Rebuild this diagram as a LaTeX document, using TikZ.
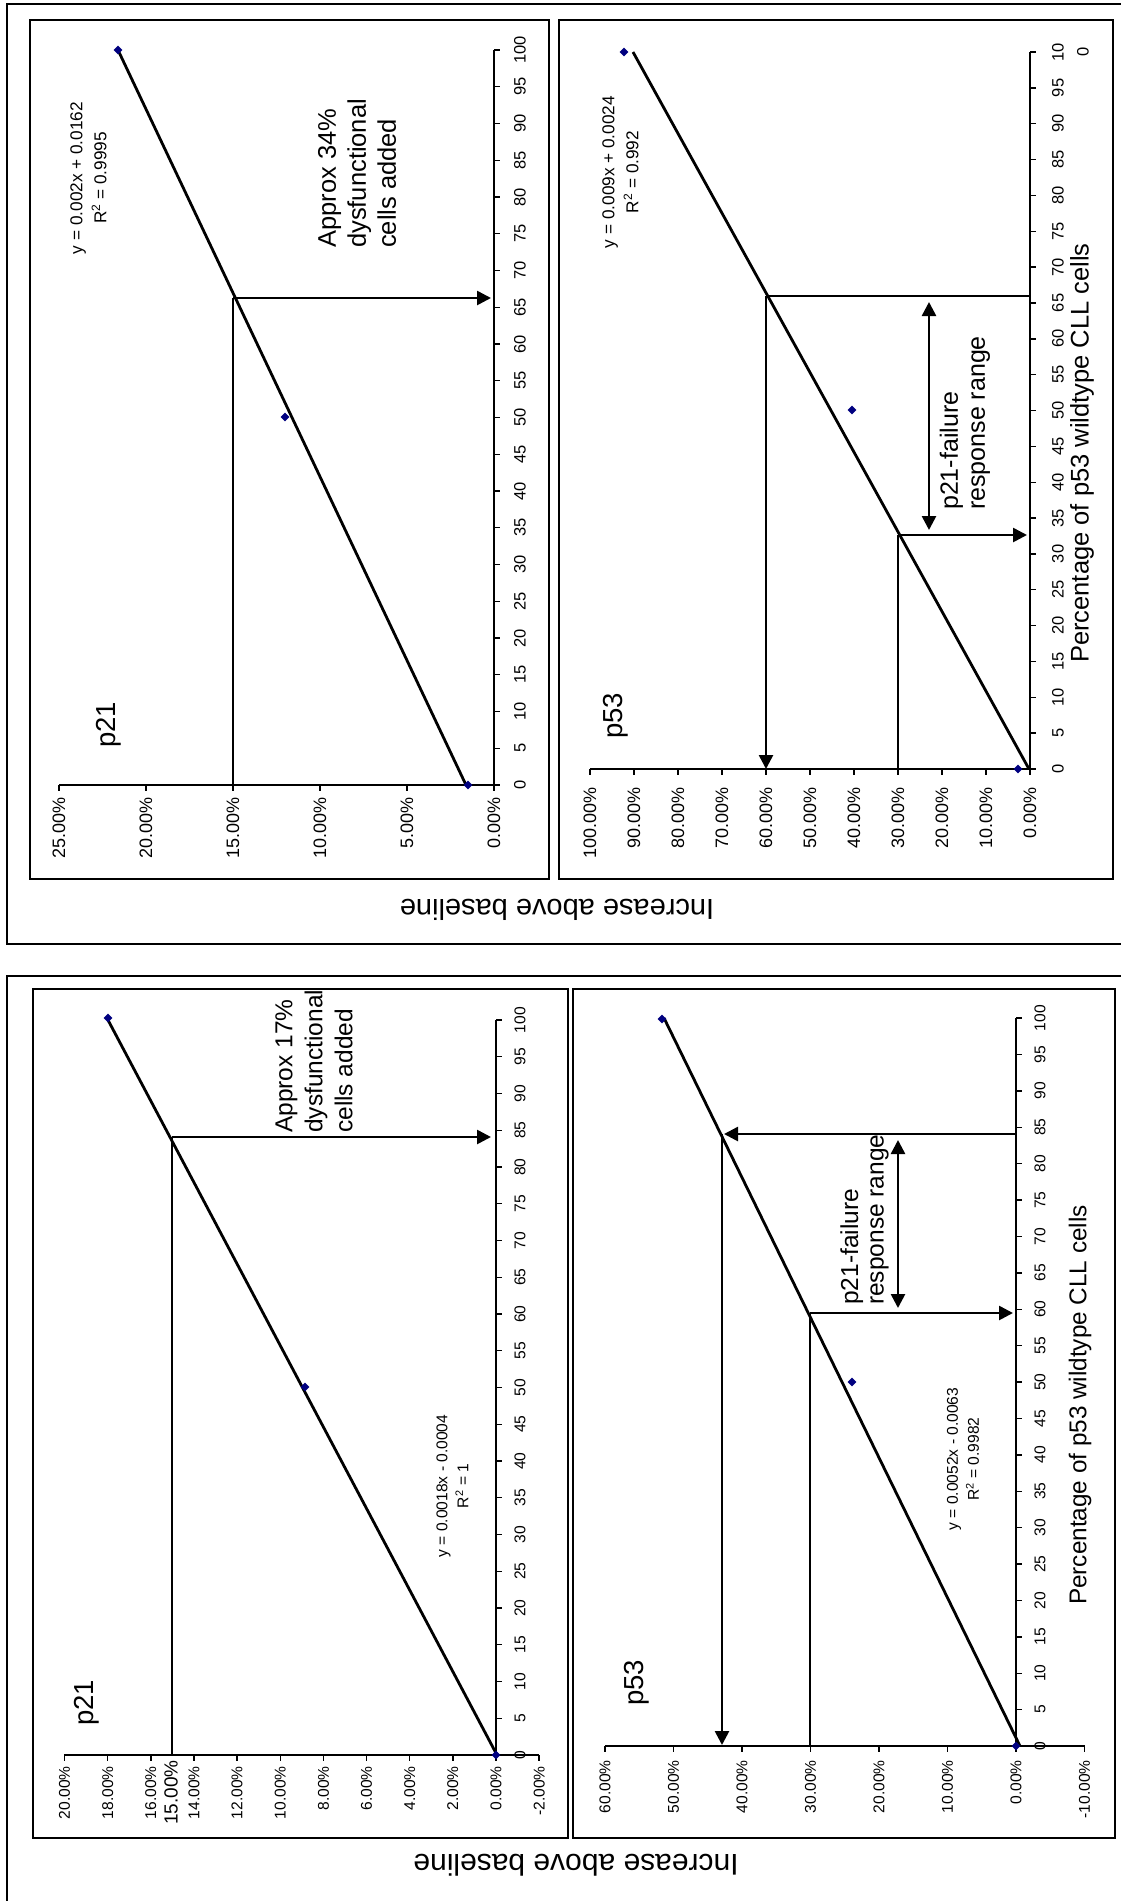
\documentclass[tikz,border=0pt]{standalone}
\usepackage{fontspec}
\setmainfont{Liberation Sans}
\usetikzlibrary{arrows.meta,shapes.geometric}
\definecolor{ptnavy}{RGB}{0,0,128}
\tikzset{
  outerbox/.style={draw, line width=2pt},
  panel/.style={draw, line width=2.2pt},
  axisline/.style={line width=1.4pt},
  trend/.style={line width=2.8pt},
  guide/.style={line width=1.7pt},
  arr/.style={line width=2.6pt, -{Triangle[length=14pt,width=14pt]}},
  darr/.style={line width=2.6pt, {Triangle[length=14pt,width=14pt]}-{Triangle[length=14pt,width=14pt]}},
  datapt/.style={diamond, fill=ptnavy, inner sep=0pt, minimum width=9pt, minimum height=9pt},
  rtxt/.style={rotate=90, inner sep=0pt},
  tickTx/.style={rtxt, font=\fontsize{16.5}{18}\selectfont},
  tickTy/.style={rtxt, anchor=east, font=\fontsize{18}{20}\selectfont},
  tickBx/.style={rtxt, font=\fontsize{15.6}{18}\selectfont},
  tickBy/.style={rtxt, anchor=east, font=\fontsize{15.6}{18}\selectfont},
  eqT/.style={rtxt, align=center, font=\fontsize{17.2}{24}\selectfont},
  eqB/.style={rtxt, align=center, font=\fontsize{15.6}{21}\selectfont},
  noteT/.style={rtxt, anchor=west, align=left, font=\fontsize{25.5}{30}\selectfont},
  noteB/.style={rtxt, anchor=west, align=left, font=\fontsize{24.5}{30}\selectfont},
  rangeT/.style={rtxt, anchor=west, align=left, font=\fontsize{25}{27}\selectfont},
  rangeB/.style={rtxt, anchor=west, align=left, font=\fontsize{24.5}{25.5}\selectfont},
  chartname/.style={rtxt, anchor=base, font=\fontsize{27.5}{30}\selectfont},
  xtitle/.style={rtxt, font=\fontsize{25.5}{28}\selectfont},
  ytitle/.style={rotate=180, inner sep=0pt, font=\fontsize{29}{32}\selectfont},
}
\begin{document}
\begin{tikzpicture}[x=1pt,y=-1pt]
\useasboundingbox (0,0) rectangle (1121,1901);
\fill[white] (0,0) rectangle (1121,1901);

%%%%%%%%%%%%%%%% TOP GROUP %%%%%%%%%%%%%%%%
\draw[outerbox] (7,4) rectangle (1130,944);
\draw[panel] (30,20) rectangle (549,879);
\draw[panel] (559,20) rectangle (1113,879);

% ---- top p21 ----
\draw[axisline] (494,50) -- (494,785);
\foreach \k in {0,...,20} \draw[axisline] (494,{785-\k*36.75}) -- (500,{785-\k*36.75});
\foreach \k [evaluate=\k as \v using int(5*\k)] in {0,...,20}
  \node[tickTx] (tax\k) at (520,{785-\k*36.75}) {\v};
\draw[axisline] (59,785) -- (494,785);
\foreach \j in {0,...,5} \draw[axisline] ({494-\j*87},785) -- ({494-\j*87},791);
\foreach \v [count=\j from 0] in {0.00\%,5.00\%,10.00\%,15.00\%,20.00\%,25.00\%}
  \node[tickTy] (tay\j) at ({494-\j*87},797) {\v};
\coordinate (tat0) at (466,785);
\coordinate (tat1) at (118,50);
\draw[trend] (tat0) -- (tat1);
\node[datapt] (tap0) at (468,785) {};
\node[datapt] (tap1) at (285,417) {};
\node[datapt] (tap2) at (118,50) {};
\coordinate (tag0) at (233,785);
\coordinate (tag1) at (233,298);
\coordinate (tag2) at (491,298);
\draw[guide] (tag0) -- (tag1);
\draw[arr] (tag1) -- (tag2);
\node[noteT] (tanote) at (357,248) {Approx 34\%\\dysfunctional\\cells added};
\node[eqT] (taeq) at (88.5,178) {y = 0.002x + 0.0162\\R\textsuperscript{2} = 0.9995};
\node[chartname] (taname) at (115,725) {p21};

% ---- top p53 ----
\draw[axisline] (1030,52) -- (1030,769);
\foreach \k in {0,...,20} \draw[axisline] (1030,{769-\k*35.85}) -- (1036,{769-\k*35.85});
\foreach \k [evaluate=\k as \v using int(5*\k)] in {0,...,19}
  \node[tickTx] (tbx\k) at (1058,{769-\k*35.85}) {\v};
\node[tickTx] (tbx20a) at (1058,52) {10};
\node[tickTx] (tbx20b) at (1083,52) {0};
\draw[axisline] (590,769) -- (1030,769);
\foreach \j in {0,...,10} \draw[axisline] ({1030-\j*44},769) -- ({1030-\j*44},775);
\foreach \v [count=\j from 0] in {0.00\%,10.00\%,20.00\%,30.00\%,40.00\%,50.00\%,60.00\%,70.00\%,80.00\%,90.00\%,100.00\%}
  \node[tickTy] (tby\j) at ({1030-\j*44},787) {\v};
\coordinate (tbt0) at (1029,769);
\coordinate (tbt1) at (633,52);
\draw[trend] (tbt0) -- (tbt1);
\node[datapt] (tbp0) at (1018,769) {};
\node[datapt] (tbp1) at (852,410) {};
\node[datapt] (tbp2) at (624,52) {};
\coordinate (tbg0) at (1030,296);
\coordinate (tbg1) at (766,296);
\coordinate (tbg2) at (766,769);
\draw[line width=2.5pt] (tbg0) -- (tbg1);
\draw[arr] (tbg1) -- (tbg2);
\coordinate (tbd0) at (929,302);
\coordinate (tbd1) at (929,530);
\draw[darr] (tbd0) -- (tbd1);
\coordinate (tbh0) at (898,769);
\coordinate (tbh1) at (898,535);
\coordinate (tbh2) at (1027,535);
\draw[guide] (tbh0) -- (tbh1);
\draw[arr] (tbh1) -- (tbh2);
\node[rangeT] (tbnote) at (965,510) {p21-failure\\response range};
\node[eqT] (tbeq) at (620.5,172) {y = 0.009x + 0.0024\\R\textsuperscript{2} = 0.992};
\node[chartname] (tbname) at (622,716) {p53};
\node[xtitle] (txtitle) at (1082,453) {Percentage of p53 wildtype CLL cells};
\node[ytitle] (tytitle) at (557,910) {Increase above baseline};

%%%%%%%%%%%%%%%% BOTTOM GROUP %%%%%%%%%%%%%%%%
\draw[outerbox] (7,976) rectangle (1130,1906);
\draw[panel] (33,989) rectangle (568,1838);
\draw[panel] (573,989) rectangle (1115,1838);

% ---- bottom p21 ----
\draw[axisline] (496,1020) -- (496,1755);
\foreach \k in {0,...,20} \draw[axisline] (496,{1755-\k*36.75}) -- (502,{1755-\k*36.75});
\foreach \k [evaluate=\k as \v using int(5*\k)] in {0,...,20}
  \node[tickBx] (bax\k) at (520,{1755-\k*36.75}) {\v};
\draw[axisline] (64,1755) -- (539,1755);
\foreach \j in {-1,...,10} \draw[axisline] ({496-\j*43.15},1755) -- ({496-\j*43.15},1761);
\foreach \v [count=\j from -1] in {-2.00\%,0.00\%,2.00\%,4.00\%,6.00\%,8.00\%,10.00\%,12.00\%,14.00\%,16.00\%,18.00\%,20.00\%}
  \node[tickBy] (bay\j) at ({496-\j*43.15},1766) {\v};
\node[rtxt, anchor=east, font=\fontsize{19}{21}\selectfont] (bay15) at (171,1760) {15.00\%};
\coordinate (bat0) at (497,1755);
\coordinate (bat1) at (108,1020);
\draw[trend] (bat0) -- (bat1);
\node[datapt] (bap0) at (496,1755) {};
\node[datapt] (bap1) at (305,1387) {};
\node[datapt] (bap2) at (108,1018) {};
\coordinate (bag0) at (172,1755);
\coordinate (bag1) at (172,1137);
\coordinate (bag2) at (491,1137);
\draw[guide] (bag0) -- (bag1);
\draw[arr] (bag1) -- (bag2);
\node[noteB] (banote) at (314,1133) {Approx 17\%\\dysfunctional\\cells added};
\node[eqB] (baeq) at (452.5,1486) {y = 0.0018x - 0.0004\\R\textsuperscript{2} = 1};
\node[chartname] (baname) at (93,1703) {p21};

% ---- bottom p53 ----
\draw[axisline] (1016,1018) -- (1016,1746);
\foreach \k in {0,...,20} \draw[axisline] (1016,{1746-\k*36.4}) -- (1022,{1746-\k*36.4});
\foreach \k [evaluate=\k as \v using int(5*\k)] in {0,...,20}
  \node[tickBx] (bbx\k) at (1040,{1746-\k*36.4}) {\v};
\draw[axisline] (605,1746) -- (1085,1746);
\foreach \j in {-1,...,6} \draw[axisline] ({1016-\j*68.5},1746) -- ({1016-\j*68.5},1752);
\foreach \v [count=\j from -1] in {-10.00\%,0.00\%,10.00\%,20.00\%,30.00\%,40.00\%,50.00\%,60.00\%}
  \node[tickBy] (bby\j) at ({1016-\j*68.5},1760) {\v};
\coordinate (bbt0) at (1020,1746);
\coordinate (bbt1) at (664,1018);
\draw[trend] (bbt0) -- (bbt1);
\node[datapt] (bbp0) at (1016,1746) {};
\node[datapt] (bbp1) at (852,1382) {};
\node[datapt] (bbp2) at (662,1019) {};
\coordinate (bbg0) at (1016,1134);
\coordinate (bbg1) at (724,1134);
\coordinate (bbg2) at (722,1134);
\coordinate (bbg3) at (722,1745);
\draw[arr] (bbg0) -- (bbg1);
\draw[arr] (bbg2) -- (bbg3);
\coordinate (bbd0) at (898,1140);
\coordinate (bbd1) at (898,1308);
\draw[darr] (bbd0) -- (bbd1);
\coordinate (bbh0) at (810,1746);
\coordinate (bbh1) at (810,1313);
\coordinate (bbh2) at (1013,1313);
\draw[guide] (bbh0) -- (bbh1);
\draw[arr] (bbh1) -- (bbh2);
\node[rangeB] (bbnote) at (864.5,1305) {p21-failure\\response range};
\node[eqB] (bbeq) at (963,1459) {y = 0.0052x - 0.0063\\R\textsuperscript{2} = 0.9982};
\node[chartname] (bbname) at (643,1683) {p53};
\node[xtitle, font=\fontsize{24.3}{27}\selectfont] (bxtitle) at (1080,1405) {Percentage of p53 wildtype CLL cells};
\node[ytitle, font=\fontsize{30}{32}\selectfont] (bytitle) at (576,1865) {Increase above baseline};
\end{tikzpicture}
\end{document}
